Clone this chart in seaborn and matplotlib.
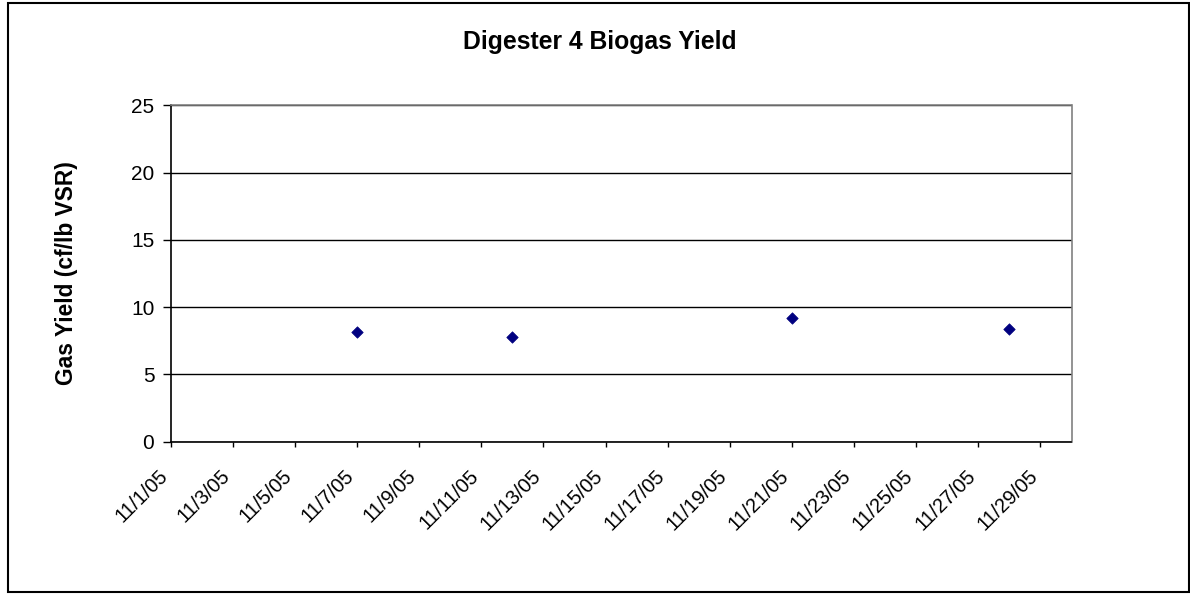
import matplotlib
matplotlib.use("Agg")
import matplotlib.pyplot as plt
import matplotlib.dates as mdates
import matplotlib.transforms as mtransforms
from matplotlib.patches import Rectangle
import seaborn as sns
import pandas as pd

dates = ["2005-11-07", "2005-11-12", "2005-11-21", "2005-11-28"]
gas_yield = [8.15, 7.8, 9.2, 8.35]
y_ticks = [0, 5, 10, 15, 20, 25]
title = "Digester 4 Biogas Yield"
y_label = "Gas Yield (cf/lb VSR)"

sns.set_theme(style="white")
plt.rcParams['font.family'] = ['Liberation Sans', 'DejaVu Sans']

df = pd.DataFrame({"date": pd.to_datetime(dates), "yield": gas_yield})

fig = plt.figure(figsize=(11.9, 5.96), dpi=100)
fig.patch.set_facecolor("white")
ax = fig.add_axes([170.7/1190, 1-441.7/596, (1071.5-170.7)/1190, (441.7-105.3)/596])

sns.scatterplot(data=df, x="date", y="yield", ax=ax, marker="D", s=34,
                color="#000080", edgecolor="#000080", linewidth=0.5, zorder=5)

ax.set_ylim(0, 25)
ax.set_yticks(y_ticks)
ax.set_xlim(pd.Timestamp("2005-11-01"), pd.Timestamp("2005-11-30"))
ax.xaxis.set_major_locator(mdates.DayLocator(bymonthday=range(1, 31, 2)))
ax.xaxis.set_major_formatter(mdates.DateFormatter("%-m/%-d/%y"))

ax.grid(axis="y", color="black", linewidth=1)
ax.grid(axis="x", visible=False)
ax.set_axisbelow(True)

for s in ["left", "bottom"]:
    ax.spines[s].set_color("black")
    ax.spines[s].set_linewidth(1.2)
for s in ["top", "right"]:
    ax.spines[s].set_color("#808080")
    ax.spines[s].set_linewidth(1.2)

ax.tick_params(axis="y", which="major", direction="out", length=5.8, width=1,
               color="black", labelsize=15, labelcolor="black", pad=6, left=True)
ax.tick_params(axis="x", which="major", direction="out", length=3.6, width=1,
               color="black", labelsize=14.5, labelcolor="black", pad=19, bottom=True)
offset = mtransforms.ScaledTranslation(-6/100, 0, fig.dpi_scale_trans)
for lbl in ax.get_xticklabels():
    lbl.set_rotation(45)
    lbl.set_ha("right")
    lbl.set_va("center")
    lbl.set_rotation_mode("anchor")
    lbl.set_transform(lbl.get_transform() + offset)

ax.set_xlabel("")
ax.set_ylabel(y_label, fontsize=16.4, fontweight="bold", color="black")
ax.yaxis.set_label_coords(-0.1024, 0.5)

fig.text(600/1190, 1-42/596, title, ha="center", va="center", fontsize=17.8,
         fontweight="bold", color="black")

fig.patches.append(Rectangle((8/1190, 1-592/596), (1189-8)/1190, (592-3)/596,
                             transform=fig.transFigure, fill=False,
                             edgecolor="black", linewidth=1.5))

fig.savefig("out.png", dpi=100, facecolor="white")
